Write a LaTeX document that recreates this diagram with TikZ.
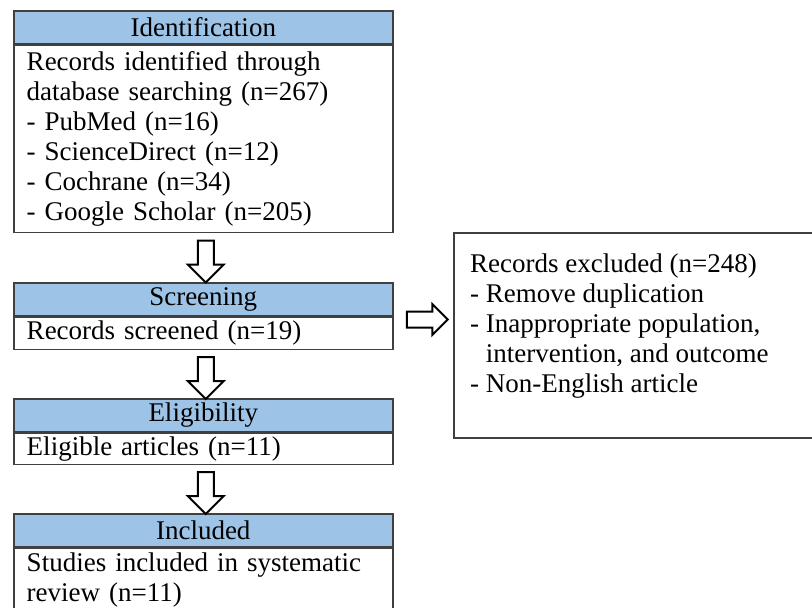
\documentclass[tikz,border=0pt]{standalone}
\usepackage{fontspec}
\setmainfont{Liberation Serif}
\usetikzlibrary{positioning, calc, shapes.arrows}
\definecolor{hdblue}{HTML}{9DC3E6}
\definecolor{edgegray}{HTML}{404040}

\begin{document}
\begin{tikzpicture}[
  x=1pt, y=-1pt,
  every node/.style={text=black, font=\fontsize{27}{30}\selectfont},
  stagehead/.style={draw=edgegray, fill=hdblue, line width=1.5pt, minimum width=379pt, minimum height=33pt, inner sep=0pt},
  stagebody/.style={draw=edgegray, fill=white, line width=1.5pt, text width=353pt, inner xsep=13pt, inner ysep=0pt, align=left},
  downarrow/.style={single arrow, draw=black, fill=white, line width=2pt, inner sep=7pt, minimum height=42pt, minimum width=0pt, single arrow head extend=10pt, shape border rotate=270},
  sidearrow/.style={single arrow, draw=black, fill=white, line width=2pt, inner sep=7pt, minimum height=41pt, minimum width=0pt, single arrow head extend=7.5pt},
]

% Canvas
\useasboundingbox (0,0) rectangle (812,608);
\clip (0,0) rectangle (812,608);
\fill[white] (0,0) rectangle (812,608);

% Identification
\node[stagehead, anchor=north west] (idhead) at (13,10) {Identification};
\node[stagebody, below=0pt of idhead, minimum height=187pt] (idbody) {%
  Records identified through\\
  database searching (n=267)\\
  - PubMed (n=16)\\
  - ScienceDirect (n=12)\\
  - Cochrane (n=34)\\
  - Google Scholar (n=205)};

% Screening
\node[stagehead, anchor=north west] (scrhead) at (13,282) {Screening};
\node[stagebody, below=0pt of scrhead, minimum height=32pt] (scrbody) {Records screened (n=19)};

% Eligibility
\node[stagehead, anchor=north west] (elihead) at (13,398) {Eligibility};
\node[stagebody, below=0pt of elihead, minimum height=31pt] (elibody) {Eligible articles (n=11)};

% Included
\node[stagehead, anchor=north west] (inchead) at (13,513) {Included};
\node[stagebody, below=0pt of inchead, minimum height=64pt] (incbody) {%
  Studies included in systematic\\
  review (n=11)};

% Excluded records
\node[draw=edgegray, line width=1.5pt, minimum width=380pt, minimum height=205pt, anchor=north west] (exbox) at (453,232) {};
\node[align=left, inner sep=0pt, anchor=north west] (extext) at ($(exbox.north west)+(17,22)$) {%
  Records excluded (n=248)\\
  - Remove duplication\\
  - Inappropriate population,\\
  \hphantom{-~}intervention, and outcome\\
  - Non-English article};

% Block arrows between stages
\node[downarrow] (arr1) at ($(idbody.south)!0.5!(scrhead.north)+(2.5,0)$) {};
\node[downarrow] (arr2) at ($(scrbody.south)!0.5!(elihead.north)+(2.5,0)$) {};
\node[downarrow] (arr3) at ($(elibody.south)!0.5!(inchead.north)+(2.5,0)$) {};
\node[sidearrow] (arr4) at ($(scrhead.south east)!0.5!(exbox.west |- scrhead.south)+(0,3)$) {};

\end{tikzpicture}
\end{document}
